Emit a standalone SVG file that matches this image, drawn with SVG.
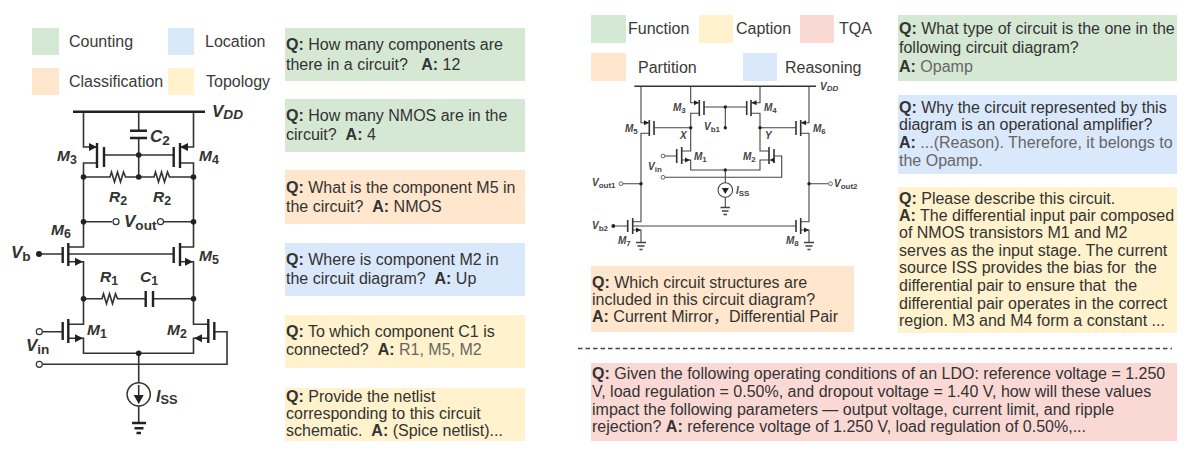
<svg xmlns="http://www.w3.org/2000/svg" width="1197" height="460" viewBox="0 0 1197 460">
<style>
text{font-family:"Liberation Sans",Arial,"Noto Sans CJK SC",sans-serif;fill:#333;white-space:pre}
.t{font-size:16px}
.l{font-size:16px;fill:#3a3a3a}
.b{font-weight:700}
.g{fill:#666}
.w{fill:none;stroke:#333;stroke-width:1.600;stroke-linejoin:miter}
.p{fill:none;stroke:#222;stroke-width:2.400}
.w2{fill:none;stroke:#444;stroke-width:1.100}
.p2{fill:none;stroke:#333;stroke-width:1.600}
.o{fill:#fff;stroke:#333;stroke-width:1.200}
.o2{fill:#fff;stroke:#444;stroke-width:.8}
.d{fill:#222}
.c{font-size:15.500px;font-weight:700;font-style:italic;fill:#333}
.c2{font-size:10px;font-weight:700;font-style:italic;fill:#444}
.s{font-size:.8em;font-style:normal}
.si{font-size:.8em}
.gn{fill:#d5e8d4}.bl{fill:#dae8fc}.or{fill:#ffe6cc}.ye{fill:#fff2cc}.rd{fill:#fad9d5}
</style>
<g id="legend-left">
<rect class="gn" x="32" y="28" width="27" height="27"/><text class="l" x="69" y="47">Counting</text>
<rect class="bl" x="168" y="28" width="26" height="27"/><text class="l" x="205" y="47">Location</text>
<rect class="or" x="32" y="68" width="27" height="27"/><text class="l" x="69" y="87">Classification</text>
<rect class="ye" x="168" y="68" width="26" height="27"/><text class="l" x="206" y="87">Topology</text>
</g>
<g id="qa-counting-1"><rect class="gn" x="285" y="28" width="240" height="53"/><text class="t" x="286" y="50"><tspan class="b">Q:</tspan> How many components are</text><text class="t" x="286" y="70">there in a circuit?   <tspan class="b">A:</tspan> 12</text></g>
<g id="qa-counting-2"><rect class="gn" x="285" y="99" width="240" height="53"/><text class="t" x="286" y="121"><tspan class="b">Q:</tspan> How many NMOS are in the</text><text class="t" x="286" y="140">circuit?  <tspan class="b">A:</tspan> 4</text></g>
<g id="qa-classification"><rect class="or" x="285" y="170" width="240" height="54"/><text class="t" x="286" y="193"><tspan class="b">Q:</tspan> What is the component M5 in</text><text class="t" x="286" y="212">the circuit?  <tspan class="b">A:</tspan> NMOS</text></g>
<g id="qa-location"><rect class="bl" x="285" y="243" width="240" height="53"/><text class="t" x="286" y="265"><tspan class="b">Q:</tspan> Where is component M2 in</text><text class="t" x="286" y="284">the circuit diagram?  <tspan class="b">A:</tspan> Up</text></g>
<g id="qa-topology-1"><rect class="ye" x="285" y="315" width="240" height="53"/><text class="t" x="286" y="337"><tspan class="b">Q:</tspan> To which component C1 is</text><text class="t" x="286" y="355">connected?  <tspan class="b">A:</tspan><tspan class="g"> R1, M5, M2</tspan></text></g>
<g id="qa-topology-2"><rect class="ye" x="285" y="388" width="240" height="53"/><text class="t" x="286" y="402"><tspan class="b">Q:</tspan> Provide the netlist</text><text class="t" x="286" y="419">corresponding to this circuit</text><text class="t" x="286" y="436">schematic.  <tspan class="b">A:</tspan> (Spice netlist)...</text></g>

<g id="legend-right">
<rect class="gn" x="591" y="15" width="35" height="28"/><text class="l" x="628" y="34">Function</text>
<rect class="ye" x="699" y="15" width="34" height="28"/><text class="l" x="736" y="34">Caption</text>
<rect class="rd" x="800" y="15" width="34" height="28"/><text class="l" x="839" y="34">TQA</text>
<rect class="or" x="591" y="53" width="35" height="28"/><text class="l" x="638" y="73">Partition</text>
<rect class="bl" x="743" y="53" width="34" height="28"/><text class="l" x="785" y="73">Reasoning</text>
</g>
<g id="qa-function"><rect class="gn" x="898" y="15" width="279" height="66"/><text class="t" x="899" y="34"><tspan class="b">Q:</tspan> What type of circuit is the one in the</text><text class="t" x="899" y="53">following circuit diagram?</text><text class="t" x="899" y="72"><tspan class="b">A:</tspan><tspan class="g"> Opamp</tspan></text></g>
<g id="qa-reasoning"><rect class="bl" x="898" y="95" width="279" height="79"/><text class="t" x="899" y="113"><tspan class="b">Q:</tspan> Why the circuit represented by this</text><text class="t" x="899" y="130">diagram is an operational amplifier?</text><text class="t" x="899" y="148"><tspan class="b">A:</tspan><tspan class="g"> ...(Reason). Therefore, it belongs to</tspan></text><text class="t g" x="899" y="166">the Opamp.</text></g>
<g id="qa-caption"><rect class="ye" x="898" y="187" width="279" height="146"/>
<text class="t" x="899" y="204"><tspan class="b">Q:</tspan> Please describe this circuit.</text>
<text class="t" x="899" y="221"><tspan class="b">A:</tspan> The differential input pair composed</text>
<text class="t" x="899" y="238">of NMOS transistors M1 and M2</text>
<text class="t" x="899" y="256">serves as the input stage. The current</text>
<text class="t" x="899" y="273">source ISS provides the bias for  the</text>
<text class="t" x="899" y="291">differential pair to ensure that  the</text>
<text class="t" x="899" y="309">differential pair operates in the correct</text>
<text class="t" x="899" y="326">region. M3 and M4 form a constant ...</text></g>
<g id="qa-partition"><rect class="or" x="591" y="266" width="263" height="66"/>
<text class="t" x="592" y="288"><tspan class="b">Q:</tspan> Which circuit structures are</text>
<text class="t" x="592" y="305">included in this circuit diagram?</text>
<text class="t" x="592" y="322"><tspan class="b">A:</tspan> Current Mirror，Differential Pair</text></g>
<path id="divider" d="M578 348.500H1172" fill="none" stroke="#444" stroke-width="1.500" stroke-dasharray="4.500 3"/>
<g id="qa-tqa"><rect class="rd" x="591" y="363" width="586" height="78"/>
<text class="t" x="592" y="379"><tspan class="b">Q:</tspan> Given the following operating conditions of an LDO: reference voltage = 1.250</text>
<text class="t" x="592" y="397">V, load regulation = 0.50%, and dropout voltage = 1.40 V, how will these values</text>
<text class="t" x="592" y="415">impact the following parameters — output voltage, current limit, and ripple</text>
<text class="t" x="592" y="432">rejection? <tspan class="b">A:</tspan> reference voltage of 1.250 V, load regulation of 0.50%,...</text></g>

<g id="connectors-left">
<path class="w" d="M83.500 112V147H97M193.500 112V147H180M138.700 112V131M138.700 138V177M104 155H173.700M97 163H83.500V247H68.300M180 163H193.500V247H180M83.500 177H110l1.500-5 3 10 3-10 3 10 3-10 2 5H154l1.500-5 3 10 3-10 3 10 3-10 2 5H193.500M83.500 221.700H112M164 221.700H193.500M39 254H62.700M68.300 254H173.700M68.300 261.700H83.500V324.300H68.300M180 261.700H193.500V324.300H208.300M83.500 298.700H102l1.500-5 3 10 3-10 3 10 3-10 2 5H145.700M153 298.700H193.500M42 331.700H62.700M68.300 338.300H83.500V353.300H193.500V338.300H208.300M214.300 331.700H227V364.300H42M138.700 353V383M138.700 406V423"/>
<path class="p" d="M73 111.700H205M130 130.700H147M130 138H147M97 143V168M104 147V167M180 143V168M173.700 147V167M68.300 243V266M62.700 247V263M180 243V266M173.700 247V263M145.700 291V307M153 291V307M68.300 319V343M62.700 322V340M208.300 319V343M214.300 322V340M132 423H146M134.500 428.300H143.500M136.500 433H141"/>
<path class="d" d="M97 147l-8-4v8zM180 147l8-4v8zM83 261.700l-8-4v8zM193 261.700l-8-4v8zM83 338.300l-8-4v8zM194 338.300l8-4v8zM138.700 404l-5-9h10z"/>
<path class="w" d="M138.700 385V396"/>
<circle cx="138.700" cy="394.300" r="11.600" fill="none" stroke="#333" stroke-width="1.500"/>
<g class="d"><circle cx="138.700" cy="155" r="2.800"/><circle cx="83.500" cy="177" r="2.800"/><circle cx="138.700" cy="177" r="2.800"/><circle cx="193.500" cy="177" r="2.800"/><circle cx="83.500" cy="221.700" r="2.800"/><circle cx="193.500" cy="221.700" r="2.800"/><circle cx="39" cy="254" r="3"/><circle cx="83.500" cy="298.700" r="2.800"/><circle cx="193.500" cy="298.700" r="2.800"/><circle cx="138.700" cy="353.300" r="2.800"/></g>
<g class="o"><circle cx="116" cy="221.700" r="3"/><circle cx="160.500" cy="221.700" r="3"/><circle cx="39.300" cy="331.700" r="3"/><circle cx="39.300" cy="364.300" r="3"/></g>
</g>
<g id="circuit-left-labels">
<text class="c" x="212" y="117" style="font-size:17px">V<tspan class="si" dy="2">DD</tspan></text>
<text class="c" x="150" y="142" style="font-size:17px">C<tspan class="s" dy="3">2</tspan></text>
<text class="c" x="57" y="161">M<tspan class="s" dy="3">3</tspan></text>
<text class="c" x="199" y="161">M<tspan class="s" dy="3">4</tspan></text>
<text class="c" x="109" y="202">R<tspan class="s" dy="3">2</tspan></text>
<text class="c" x="153" y="202">R<tspan class="s" dy="3">2</tspan></text>
<text class="c" x="124" y="227" style="font-size:17px">V<tspan class="s" dy="3">out</tspan></text>
<text class="c" x="51" y="235">M<tspan class="s" dy="3">6</tspan></text>
<text class="c" x="11" y="258" style="font-size:17px">V<tspan class="s" dy="3">b</tspan></text>
<text class="c" x="199" y="261">M<tspan class="s" dy="3">5</tspan></text>
<text class="c" x="100" y="282">R<tspan class="s" dy="3">1</tspan></text>
<text class="c" x="140" y="282">C<tspan class="s" dy="3">1</tspan></text>
<text class="c" x="87" y="335">M<tspan class="s" dy="3">1</tspan></text>
<text class="c" x="167" y="335">M<tspan class="s" dy="3">2</tspan></text>
<text class="c" x="26" y="351" style="font-size:17px">V<tspan class="s" dy="3">in</tspan></text>
<text class="c" x="156" y="402" style="font-size:16px">I<tspan class="s" dy="2">SS</tspan></text>
</g>

<g id="connectors-right">
<path class="w2" d="M641 86V122.700H649.300M809 86V122.700H800.700M690.700 86V102.700H699.300M760 86V102.700H751M704 107H746.700M725.300 107V127.700M699.300 113.300H690.700V151H681.700M751 113.300H760V151H769M654 127.700H690.700M760 127.700H796M649.300 133.300H641V221.700H632.700M800.700 133.300H809V221.700H800.700M665 156H676.700M681.700 160H690.700V170H760V160H769M774 156H781.700V177.300H665M725.300 170V183M725.300 197V207M623 183.700H641M809 183.700H828.500M613.300 226H627.700M632.700 226H796M632.700 230H641V242M800.700 230H809V242"/>
<path class="p2" d="M634.300 86.300H816M699.300 100V116M704 101V115M751 100V116M746.700 101V115M649.300 120V136M654 121V135M800.700 120V136M796 121V135M681.700 147V164M676.700 149V163M769 147V164M774 149V163M632.700 218V234M627.700 220V232M800.700 218V234M796 220V232"/>
<path class="w2" d="M720.500 207.500H730M722 211H728.500M723.500 214.500H727M636 242.500H646M637.500 246H644.500M639.500 249.500H642.500M804 242.500H814M805.500 246H812.500M807.500 249.500H810.500" style="stroke-width:1.300"/>
<path class="d" d="M699 102.700l-5-2.500v5zM751.500 102.700l5-2.500v5zM649 122.700l-5-2.500v5zM801 122.700l5-2.500v5zM690 160l-5-2.500v5zM769.500 160l5-2.500v5zM641 230l-5-2.500v5zM809 230l-5-2.500v5zM725.300 194l-3.500-6h7z"/>
<circle cx="725.300" cy="190" r="7.300" fill="none" stroke="#444" stroke-width="1.100"/>
<g class="d"><circle cx="725.300" cy="107" r="1.700"/><circle cx="725.300" cy="127.700" r="1.700"/><circle cx="690.700" cy="127.700" r="1.700"/><circle cx="760" cy="127.700" r="1.700"/><circle cx="725.300" cy="170" r="1.700"/><circle cx="641" cy="183.700" r="1.700"/><circle cx="809" cy="183.700" r="1.700"/><circle cx="613.300" cy="226" r="1.900"/></g>
<g class="o2"><circle cx="663" cy="156" r="1.900"/><circle cx="663" cy="177.300" r="1.900"/><circle cx="621" cy="183.700" r="1.900"/><circle cx="830.500" cy="183.700" r="1.900"/></g>
</g>
<g id="circuit-right-labels">
<text class="c2" x="820" y="90">V<tspan class="si" dy="1">DD</tspan></text>
<text class="c2" x="673" y="111">M<tspan class="s" dy="2">3</tspan></text>
<text class="c2" x="764" y="111">M<tspan class="s" dy="2">4</tspan></text>
<text class="c2" x="625" y="132">M<tspan class="s" dy="2">5</tspan></text>
<text class="c2" x="813" y="132">M<tspan class="s" dy="2">6</tspan></text>
<text class="c2" x="704" y="130">V<tspan class="s" dy="2">b1</tspan></text>
<text class="c2" x="680" y="139">X</text>
<text class="c2" x="765" y="139">Y</text>
<text class="c2" x="694" y="160">M<tspan class="s" dy="2">1</tspan></text>
<text class="c2" x="743" y="160">M<tspan class="s" dy="2">2</tspan></text>
<text class="c2" x="648" y="170">V<tspan class="s" dy="2">in</tspan></text>
<text class="c2" x="736" y="194">I<tspan class="s" dy="2">SS</tspan></text>
<text class="c2" x="592" y="186">V<tspan class="s" dy="2">out1</tspan></text>
<text class="c2" x="834" y="187">V<tspan class="s" dy="2">out2</tspan></text>
<text class="c2" x="592" y="229">V<tspan class="s" dy="2">b2</tspan></text>
<text class="c2" x="618" y="244">M<tspan class="s" dy="2">7</tspan></text>
<text class="c2" x="786" y="244">M<tspan class="s" dy="2">8</tspan></text>
</g>
</svg>
